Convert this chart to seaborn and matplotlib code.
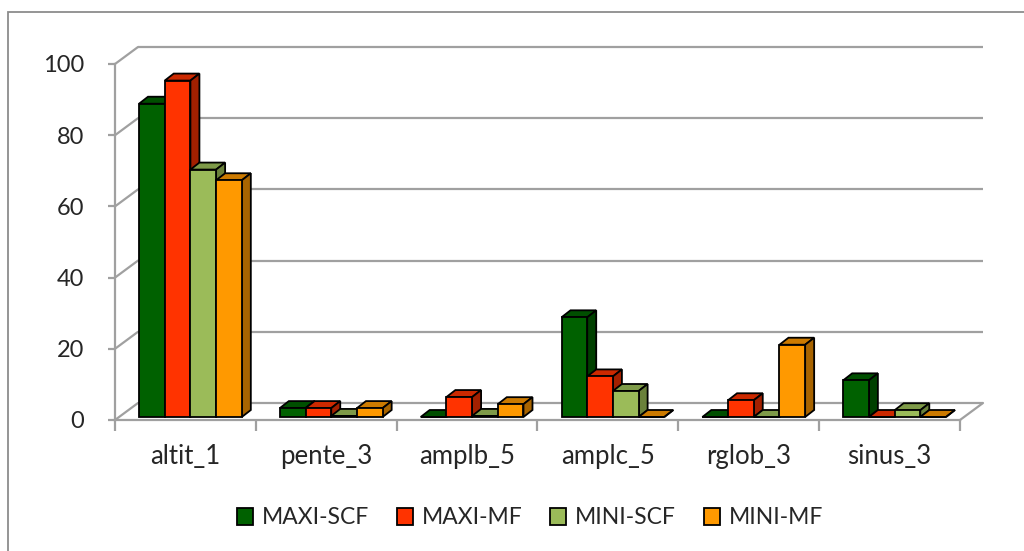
import pandas as pd
import matplotlib
matplotlib.use("Agg")
import matplotlib.pyplot as plt
import seaborn as sns
from matplotlib.patches import Polygon, Patch, Rectangle

sns.set_style("white")
plt.rcParams['font.family'] = ['Lato', 'DejaVu Sans']

# values
categories = ["altit_1", "pente_3", "amplb_5", "amplc_5", "rglob_3", "sinus_3"]
series = ["MAXI-SCF", "MAXI-MF", "MINI-SCF", "MINI-MF"]
maxi_scf = [88, 2.5, 0, 28, 0, 10.3]
maxi_mf = [94.5, 2.5, 5.6, 11.4, 4.7, 0]
mini_scf = [69.5, 0.3, 0.3, 7.3, 0, 1.9]
mini_mf = [66.5, 2.5, 3.6, 0, 20.3, 0]
y_ticks = [0, 20, 40, 60, 80, 100]

front_col = {"MAXI-SCF": "#006100", "MAXI-MF": "#FF3300",
             "MINI-SCF": "#9BBB59", "MINI-MF": "#FF9900"}
top_col = {"MAXI-SCF": "#004F00", "MAXI-MF": "#CC2900",
           "MINI-SCF": "#7E9A48", "MINI-MF": "#CC7A00"}
side_col = {"MAXI-SCF": "#004000", "MAXI-MF": "#A32000",
            "MINI-SCF": "#6A813B", "MINI-MF": "#A86400"}

frames = []
for name, vals in zip(series, [maxi_scf, maxi_mf, mini_scf, mini_mf]):
    frames.append(pd.DataFrame({"cat": categories, "series": name, "value": vals}))
df = pd.concat(frames, ignore_index=True)

fig = plt.figure(figsize=(10.24, 5.51), dpi=100)
ax = fig.add_axes([115 / 1024, 1 - 420 / 551, 845 / 1024, 356 / 551])

sns.barplot(data=df, x="cat", y="value", hue="series", hue_order=series,
            order=categories, palette=front_col, saturation=1, width=0.73,
            edgecolor="black", linewidth=1.3, legend=False, ax=ax)

ax.set_xlim(-0.5, 5.5)
ax.set_ylim(0, 100)

# pixel -> data sizes
px_x = 845 / 6
px_y = 356 / 100
ox, oy = 23 / px_x, 17 / px_y       # back wall offset
dxd, dyd = 9 / px_x, 7 / px_y       # bar depth
base = 3 / px_y
shift = 5 / px_x

grid_c = "#a0a0a0"
for t in y_ticks:
    ax.plot([-0.5 + ox, 5.5 + ox], [t + oy, t + oy], color=grid_c, lw=1.6,
            zorder=1, clip_on=False, solid_capstyle="butt")
    ax.plot([-0.5, -0.5 + ox], [t, t + oy], color=grid_c, lw=1.6,
            zorder=1, clip_on=False)
ax.plot([5.5, 5.5 + ox], [0, oy], color=grid_c, lw=1.6, zorder=1, clip_on=False)

# 3D-ish bars: top and side faces
n = len(categories)
bars = []
for i, p in enumerate(ax.patches):
    s = series[i // n]
    p.set_x(p.get_x() + shift)
    p.set_y(base)
    bars.append((p.get_x(), p, s))
bars.sort(key=lambda b: b[0])
for k, (x0, p, s) in enumerate(bars):
    w, h = p.get_width(), p.get_height()
    y0 = base
    z = 3 + k * 0.01
    top = Polygon([(x0, y0 + h), (x0 + w, y0 + h), (x0 + w + dxd, y0 + h + dyd),
                   (x0 + dxd, y0 + h + dyd)], closed=True, facecolor=top_col[s],
                  edgecolor="black", lw=1.3, zorder=z, clip_on=False)
    side = Polygon([(x0 + w, y0), (x0 + w + dxd, y0 + dyd),
                    (x0 + w + dxd, y0 + h + dyd), (x0 + w, y0 + h)], closed=True,
                   facecolor=side_col[s], edgecolor="black", lw=1.3, zorder=z,
                   clip_on=False)
    ax.add_patch(top)
    ax.add_patch(side)
    p.set_zorder(z + 0.005)
    p.set_clip_on(False)

# axes styling
for sp in ["top", "right"]:
    ax.spines[sp].set_visible(False)
for sp in ["left", "bottom"]:
    ax.spines[sp].set_color(grid_c)
    ax.spines[sp].set_linewidth(1.6)
    ax.spines[sp].set_zorder(1)
ax.set_yticks(y_ticks)
ax.set_yticklabels([str(t) for t in y_ticks])
ax.set_xticks(range(n))
ax.set_xticklabels(categories)
ax.set_xticks([i - 0.5 for i in range(n + 1)], minor=True)
ax.tick_params(axis="y", direction="out", length=5, width=1.6, color=grid_c,
               pad=17, labelsize=17, left=True)
ax.tick_params(axis="x", which="major", length=0, pad=17, labelsize=18.5)
ax.tick_params(axis="x", which="minor", direction="out", length=8, width=1.6,
               color=grid_c, bottom=True)
ax.set_xlabel("")
ax.set_ylabel("")
ax.grid(False)

# legend
handles = [Patch(facecolor=front_col[s], edgecolor="black", lw=1.3) for s in series]
fig.legend(handles, series, loc="center", bbox_to_anchor=(530 / 1024, 1 - 518 / 551),
           ncol=4, frameon=False, handlelength=0.7, handleheight=0.7,
           handletextpad=0.4, columnspacing=1.2, fontsize=16.5)

# chart area border
fig.add_artist(Rectangle((8 / 1024, -0.1), 1.2, 1 - 12 / 551 + 0.1,
                         transform=fig.transFigure, fill=False,
                         edgecolor="#8c8c8c", lw=1.3))

fig.savefig("out.png", dpi=100)
